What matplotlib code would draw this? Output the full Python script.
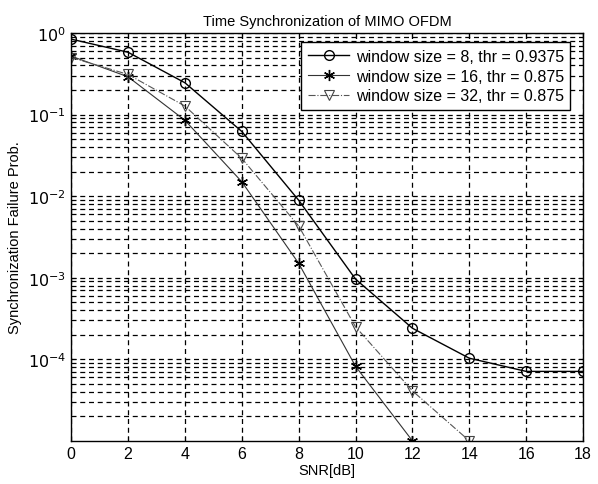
import matplotlib
matplotlib.use("Agg")
from matplotlib import pyplot as plt
from matplotlib.ticker import LogLocator, NullFormatter

plt.rcParams['font.family'] = ['Liberation Sans', 'DejaVu Sans']

snr = [0, 2, 4, 6, 8, 10, 12, 14, 16, 18]
p_w8 = [0.84, 0.58, 0.245, 0.062, 0.0089, 9.6e-4, 2.4e-4, 1.03e-4, 7.1e-5, 7.1e-5]
snr_w16 = [0, 2, 4, 6, 8, 10, 12]
p_w16 = [0.52, 0.29, 0.085, 0.015, 1.5e-3, 8.2e-5, 1.0e-5]
snr_w32 = [0, 2, 4, 6, 8, 10, 12, 14]
p_w32 = [0.50, 0.31, 0.127, 0.029, 4.3e-3, 2.5e-4, 4.1e-5, 1.0e-5]

labels = ["window size = 8, thr = 0.9375",
          "window size = 16, thr = 0.875",
          "window size = 32, thr = 0.875"]

fig = plt.figure(figsize=(5.98, 4.85), dpi=100)
ax = fig.add_axes([0.119, 0.089, 0.856, 0.841])

ax.semilogy(snr, p_w8, '-', color='black', lw=1.0, marker='o', ms=7,
            mfc='none', mec='black', mew=1.0, label=labels[0])
ax.semilogy(snr_w16, p_w16, '-', color='#333333', lw=0.8, marker=(6, 2, 0), ms=8,
            mfc='black', mec='black', mew=1.0, label=labels[1])
ax.semilogy(snr_w32, p_w32, '-.', color='#555555', lw=0.8, marker='v', ms=7,
            mfc='none', mec='#444444', mew=0.8, label=labels[2])

ax.set_xlim(0, 18)
ax.set_ylim(1e-5, 1)
ax.set_xticks(range(0, 19, 2))
ax.yaxis.set_minor_locator(LogLocator(base=10, subs=range(2, 10), numticks=20))
ax.yaxis.set_minor_formatter(NullFormatter())
ax.set_yticks([1e-4, 1e-3, 1e-2, 1e-1, 1])
ax.set_yticklabels([r'$10^{-4}$', r'$10^{-3}$', r'$10^{-2}$', r'$10^{-1}$', r'$10^{0}$'])

ax.grid(True, which='major', axis='both', color='black', ls=(0, (4, 3)), lw=0.9)
ax.grid(True, which='minor', axis='y', color='black', ls=(0, (4, 3)), lw=0.9)
ax.tick_params(which='both', direction='in', top=True, right=True, labelsize=11.5)
for s in ax.spines.values():
    s.set_linewidth(1.0)

ax.set_title("Time Synchronization of MIMO OFDM", fontsize=10.5, pad=6)
ax.set_xlabel("SNR[dB]", fontsize=10.5, labelpad=2)
ax.set_ylabel("Synchronization Failure Prob.", fontsize=10.5, labelpad=4)

leg = ax.legend(loc='upper right', fontsize=11.5, fancybox=False, framealpha=1,
                edgecolor='black', bbox_to_anchor=(0.975, 0.977),
                borderaxespad=0.0, handlelength=2.6, handletextpad=0.4,
                labelspacing=0.3, borderpad=0.4)
leg.get_frame().set_linewidth(1.0)

plt.savefig("out.png", dpi=100)
